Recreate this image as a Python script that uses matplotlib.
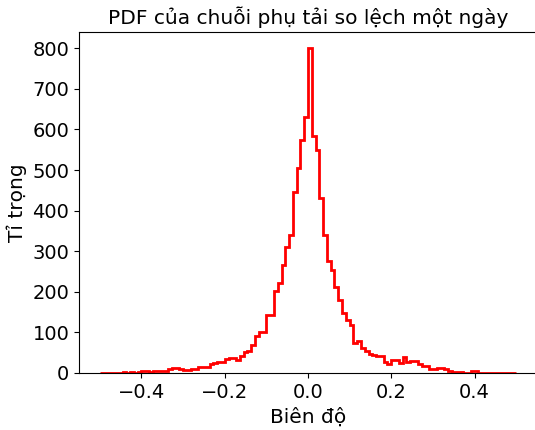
import numpy as np
import matplotlib
matplotlib.use('Agg')
import matplotlib.pyplot as plt
from matplotlib.ticker import MultipleLocator

# histogram bins: 110 equal bins over [-0.5, 0.5]
bin_edges = np.linspace(-0.5, 0.5, 111)

# bin heights
counts_left = [1, 1, 0, 1, 1, 1, 2, 1, 2, 1,
               2, 6, 4, 3, 4, 5, 6, 6, 9, 13,
               13, 10, 7, 8, 10, 10, 14, 14, 16, 22,
               25, 28, 28, 34, 36, 36, 31, 42, 52, 53,
               69, 90, 100, 102, 142, 143, 201, 222, 267, 310,
               340, 447, 505, 573, 631]
counts_right = [800, 584, 549, 430, 340, 276, 253, 213, 179, 148,
                131, 118, 74, 78, 61, 53, 47, 44, 43, 42,
                28, 22, 32, 31, 25, 40, 26, 30, 29, 22,
                18, 17, 10, 10, 13, 12, 9, 6, 3, 2,
                2, 1, 1, 4, 4, 1, 0, 1, 0, 1,
                1, 0, 1, 0, 1]
counts = np.array(counts_left + counts_right, dtype=float)
centers = 0.5 * (bin_edges[:-1] + bin_edges[1:])

fig = plt.figure(figsize=(5.35, 4.3), dpi=100)
# right spine falls just past the image edge, as in the reference
ax = fig.add_axes([79 / 535, 57 / 430, 458 / 535, 341 / 430])

ax.hist(centers, bins=bin_edges, weights=counts, histtype='step',
        color='red', linewidth=2)

ax.set_title('PDF của chuỗi phụ tải so lệch một ngày', fontsize=14.5)
ax.set_xlabel('Biên độ', fontsize=14.5)
ax.set_ylabel('Tỉ trọng', fontsize=14.5)
ax.yaxis.set_major_locator(MultipleLocator(100))
ax.tick_params(axis='both', labelsize=14)

fig.savefig('out.png', dpi=100)
